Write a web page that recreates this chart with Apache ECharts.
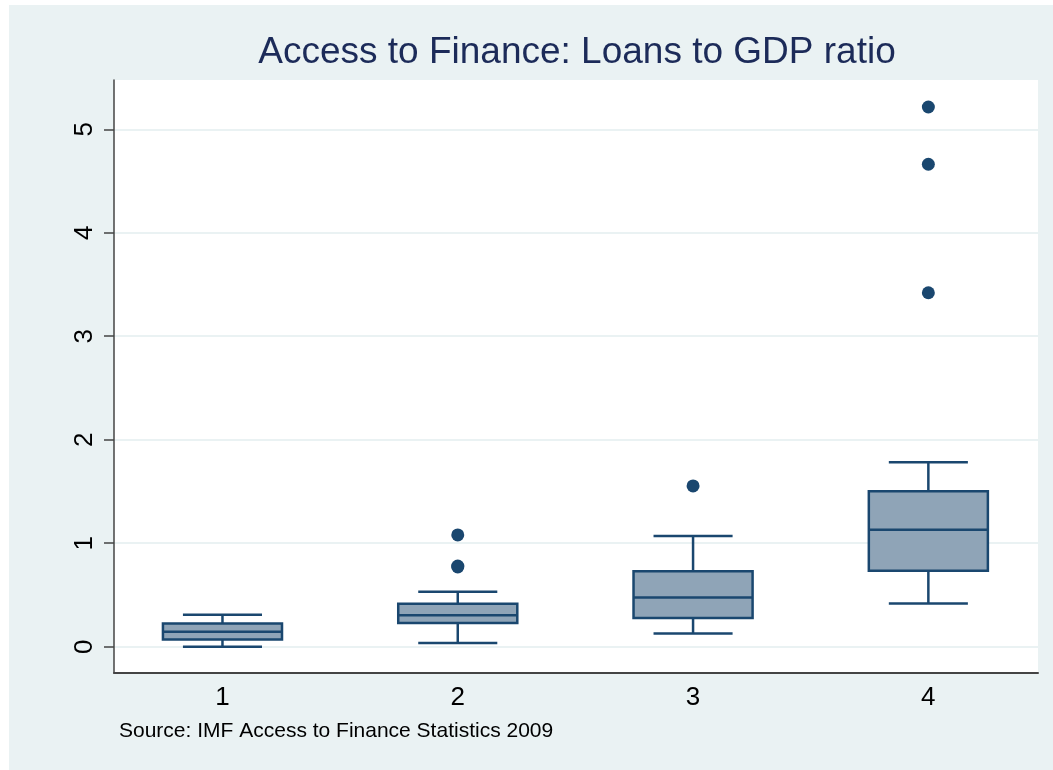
<!DOCTYPE html>
<html>
<head>
<meta charset="utf-8">
<title>Access to Finance: Loans to GDP ratio</title>
<script src="https://cdn.jsdelivr.net/npm/echarts@6/dist/echarts.min.js"></script>
<style>
  html, body { margin: 0; padding: 0; background: #ffffff; }
  #chart { width: 1053px; height: 770px; }
</style>
</head>
<body>
<div id="chart"></div>
<script>
// Groups on the horizontal axis
const groups = [1, 2, 3, 4];
const groupLabels = ['1', '2', '3', '4'];

// Box statistics per group (loans to GDP ratio)
const lowerWhisker = [0.00, 0.035, 0.128, 0.418];
const lowerQuartile = [0.07, 0.23, 0.277, 0.734];
const medians = [0.145, 0.305, 0.476, 1.129];
const upperQuartile = [0.225, 0.415, 0.73, 1.503];
const upperWhisker = [0.31, 0.53, 1.07, 1.783];

// Outside values: group and ratio
const outlierGroups = [2, 2, 2, 3, 4, 4, 4];
const outlierValues = [1.08, 0.78, 0.77, 1.554, 3.42, 4.662, 5.215];

// Axis ticks
const yTicks = [0, 1, 2, 3, 4, 5];

const navy = '#1a476f';
const boxFill = '#8fa4b7';
const bg = '#eaf2f3';
const font = '"Liberation Sans", Arial, Helvetica, sans-serif';

const boxData = groups.map((g, i) => [g, lowerWhisker[i], lowerQuartile[i], medians[i], upperQuartile[i], upperWhisker[i]]);
const outlierData = outlierGroups.map((g, i) => [g, outlierValues[i]]);

const BOX_HALF = 0.253;   // half box width, in group units
const CAP_HALF = 0.168;   // half whisker-cap width, in group units

function renderBox(params, api) {
  const x = api.value(0);
  const lw = api.value(1), q1 = api.value(2), md = api.value(3), q3 = api.value(4), uw = api.value(5);
  const pLW = api.coord([x, lw]);
  const pQ1 = api.coord([x, q1]);
  const pMD = api.coord([x, md]);
  const pQ3 = api.coord([x, q3]);
  const pUW = api.coord([x, uw]);
  const bl = api.coord([x - BOX_HALF, q1])[0];
  const br = api.coord([x + BOX_HALF, q1])[0];
  const cl = api.coord([x - CAP_HALF, q1])[0];
  const cr = api.coord([x + CAP_HALF, q1])[0];
  const lineStyle = { stroke: navy, lineWidth: 2.5, fill: null };
  return {
    type: 'group',
    children: [
      { type: 'line', shape: { x1: pLW[0], y1: pLW[1], x2: pQ1[0], y2: pQ1[1] }, style: lineStyle },
      { type: 'line', shape: { x1: pQ3[0], y1: pQ3[1], x2: pUW[0], y2: pUW[1] }, style: lineStyle },
      { type: 'line', shape: { x1: cl, y1: pLW[1], x2: cr, y2: pLW[1] }, style: lineStyle },
      { type: 'line', shape: { x1: cl, y1: pUW[1], x2: cr, y2: pUW[1] }, style: lineStyle },
      { type: 'rect', shape: { x: bl, y: pQ3[1], width: br - bl, height: pQ1[1] - pQ3[1] },
        style: { fill: boxFill, stroke: navy, lineWidth: 2.5 } },
      { type: 'line', shape: { x1: bl, y1: pMD[1], x2: br, y2: pMD[1] }, style: lineStyle }
    ]
  };
}

const chart = echarts.init(document.getElementById('chart'), null, { renderer: 'canvas' });

chart.setOption({
  animation: false,
  backgroundColor: '#ffffff',
  graphic: [
    { type: 'rect', z: -10, silent: true,
      shape: { x: 9, y: 5, width: 1044, height: 765 },
      style: { fill: bg } },
    { type: 'text', z: 10, x: 577, y: 53,
      style: { text: 'Access to Finance: Loans to GDP ratio', font: '37px ' + font,
               fill: '#1c2b59', align: 'center', verticalAlign: 'middle' } },
    { type: 'text', z: 10, x: 119, y: 731,
      style: { text: 'Source: IMF Access to Finance Statistics 2009', font: '21px ' + font,
               fill: '#000000', align: 'left', verticalAlign: 'middle' } }
  ],
  grid: {
    left: 114, top: 80, right: 15, bottom: 97,
    show: true, backgroundColor: '#ffffff', borderWidth: 0
  },
  xAxis: {
    type: 'value',
    min: 0.539, max: 4.466,
    axisLine: { show: true, onZero: false, lineStyle: { color: '#444444', width: 2 } },
    axisTick: { show: false },
    splitLine: { show: false },
    axisLabel: {
      customValues: groups,
      formatter: v => groupLabels[groups.indexOf(v)],
      fontFamily: font, fontSize: 26, color: '#000000', margin: 12
    }
  },
  yAxis: {
    type: 'value',
    min: -0.254, max: 5.476,
    axisLine: { show: true, onZero: false, lineStyle: { color: '#444444', width: 1.5 } },
    axisTick: { show: true, customValues: yTicks, length: 10, lineStyle: { color: '#444444', width: 1.5 } },
    splitLine: { show: true, lineStyle: { color: bg, width: 2 } },
    axisLabel: {
      customValues: yTicks,
      rotate: 90,
      fontFamily: font, fontSize: 26, color: '#000000', margin: 16
    }
  },
  series: [
    {
      type: 'custom',
      renderItem: renderBox,
      encode: { x: 0, y: [1, 2, 3, 4, 5] },
      data: boxData,
      z: 3
    },
    {
      type: 'scatter',
      data: outlierData,
      symbol: 'circle',
      symbolSize: 13,
      itemStyle: { color: navy, opacity: 1 },
      z: 4
    }
  ]
});
</script>
</body>
</html>
